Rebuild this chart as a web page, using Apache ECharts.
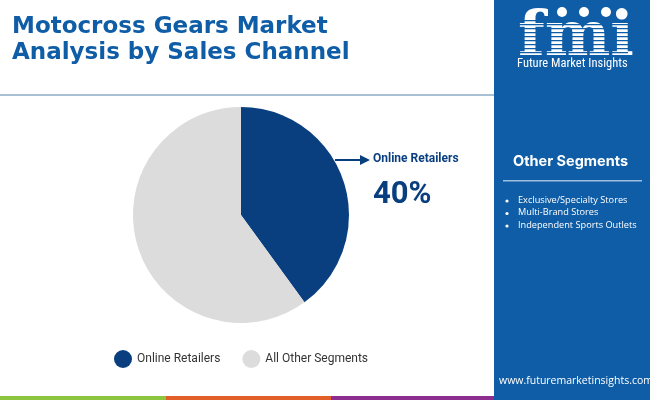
<!DOCTYPE html>
<html>
<head>
<meta charset="utf-8">
<script src="https://cdn.jsdelivr.net/npm/echarts@6/dist/echarts.min.js"></script>
<style>
  html, body { margin: 0; padding: 0; background: #fff; }
  #chart { width: 650px; height: 400px; }
</style>
</head>
<body>
<div id="chart"></div>
<script>
// data
var segments = ['Online Retailers', 'All Other Segments'];
var shares = [40, 60];
var sliceColors = ['#0a3f7f', '#dcdcdc'];
var otherSegments = ['Exclusive/Specialty Stores', 'Multi-Brand Stores', 'Independent Sports Outlets'];

var titleFont = '"DejaVu Sans", sans-serif';
var bodyFont = 'Roboto, sans-serif';
var panelBlue = '#0f5da6';

var myChart = echarts.init(document.getElementById('chart'));

var pieData = [];
for (var i = 0; i < segments.length; i++) {
    pieData.push({ name: segments[i], value: shares[i], itemStyle: { color: sliceColors[i] } });
}

// right panel bullets
var bullets = [];
for (var j = 0; j < otherSegments.length; j++) {
    bullets.push({
        type: 'circle', shape: { cx: 507, cy: 201 + j * 12.5, r: 1.6 },
        style: { fill: '#fff' }
    });
    bullets.push({
        type: 'text', left: 518, top: 195.5 + j * 12.5,
        style: { text: otherSegments[j], fill: '#fff', font: '9.2px "Open Sans", sans-serif' }
    });
}

// logo stripes over the fmi letters
var stripes = [];
for (var y = 20; y < 58; y += 4) {
    stripes.push({
        type: 'rect', shape: { x: 516, y: y, width: 112, height: 1.3 },
        style: { fill: panelBlue }, z: 10
    });
}
var dots = [562, 584, 606].map(function (cx) {
    return { type: 'circle', shape: { cx: cx, cy: 12, r: 5 }, style: { fill: '#fff' }, z: 11 };
});

var option = {
    animation: false,
    legend: {
        data: segments,
        left: 109,
        top: 345,
        icon: 'circle',
        itemWidth: 18,
        itemHeight: 18,
        itemGap: 22,
        textStyle: { fontFamily: bodyFont, fontSize: 12, color: '#333' }
    },
    series: [{
        type: 'pie',
        center: [241, 215],
        radius: [0, 108],
        startAngle: 90,
        clockwise: true,
        label: { show: false },
        labelLine: { show: false },
        data: pieData
    }],
    graphic: [
        // title
        {
            type: 'text', left: 12, top: 14,
            style: {
                text: 'Motocross Gears Market\nAnalysis by Sales Channel',
                fill: '#0f5da6', font: 'bold 23px ' + titleFont, lineHeight: 26
            }
        },
        {
            type: 'rect', shape: { x: 0, y: 94, width: 494, height: 2 },
            style: { fill: '#a9bfd3' }
        },
        // callout
        {
            type: 'line', shape: { x1: 335, y1: 160, x2: 362, y2: 160 },
            style: { stroke: '#0a3f7f', lineWidth: 2 }
        },
        {
            type: 'polygon', shape: { points: [[360, 155], [370, 160], [360, 165]] },
            style: { fill: '#0a3f7f' }
        },
        {
            type: 'text', left: 373, top: 153,
            style: { text: segments[0], fill: '#0a3f7f', font: 'bold 12px ' + bodyFont }
        },
        {
            type: 'text', left: 373, top: 180,
            style: { text: shares[0] + '%', fill: '#0a3f7f', font: 'bold 31px ' + bodyFont }
        },
        // right panel
        {
            type: 'rect', shape: { x: 494, y: 0, width: 156, height: 400 },
            style: { fill: panelBlue }
        },
        {
            type: 'text', left: 518, top: 8,
            style: { text: 'fmi', fill: '#fff', font: 'bold 62px "DejaVu Serif", serif' }
        },
        {
            type: 'text', left: 517, top: 57,
            style: { text: 'Future Market Insights', fill: '#fff', font: '12.5px "Liberation Sans Narrow", "Roboto Condensed", Roboto, sans-serif' }
        },
        {
            type: 'text', left: 513, top: 154,
            style: { text: 'Other Segments', fill: '#fff', font: 'bold 14.5px Inter, sans-serif' }
        },
        {
            type: 'rect', shape: { x: 503, y: 180, width: 139, height: 1.5 },
            style: { fill: '#9dc0e0' }
        },
        {
            type: 'text', left: 499, top: 376,
            style: { text: 'www.futuremarketinsights.com', fill: '#fff', font: '10.5px "Open Sans", sans-serif' }
        },
        // bottom stripe
        { type: 'rect', shape: { x: 0, y: 396, width: 166, height: 4 }, style: { fill: '#8cc63f' } },
        { type: 'rect', shape: { x: 166, y: 396, width: 165, height: 4 }, style: { fill: '#e35f2a' } },
        { type: 'rect', shape: { x: 331, y: 396, width: 163, height: 4 }, style: { fill: '#8e2d90' } }
    ].concat(bullets, stripes, dots)
};

myChart.setOption(option);
</script>
</body>
</html>
